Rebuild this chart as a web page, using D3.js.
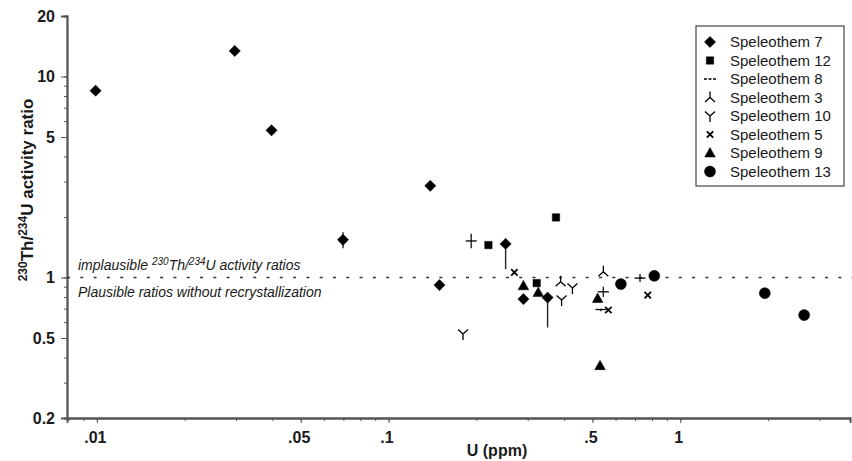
<!DOCTYPE html>
<html>
<head>
<meta charset="utf-8">
<script src="https://cdn.jsdelivr.net/npm/d3@7"></script>
<style>
  body { margin: 0; background: #fff; }
  svg { display: block; font-family: "Liberation Sans", Arial, sans-serif; }
</style>
</head>
<body>
<div id="chart"></div>
<script>
// U (ppm) vs 230Th/234U activity ratio
const speleothem7 = [[0.0099, 8.5], [0.0297, 13.4], [0.0397, 5.4], [0.0698, 1.54], [0.139, 2.86],
  [0.1495, 0.917], [0.252, 1.47], [0.29, 0.781], [0.351, 0.795]];
const speleothem12 = [[0.22, 1.45], [0.375, 1.99], [0.322, 0.938]];
const speleothem8 = [[0.192, 1.52], [0.545, 0.849], [0.728, 0.993], [0.535, 0.693]];
const speleothem3 = [[0.389, 0.952], [0.545, 1.067]];
const speleothem10 = [[0.18, 0.523], [0.427, 0.886], [0.392, 0.772]];
const speleothem5 = [[0.27, 1.06], [0.567, 0.689], [0.774, 0.817]];
const speleothem9 = [[0.29, 0.909], [0.326, 0.842], [0.521, 0.786], [0.531, 0.364]];
const speleothem13 = [[0.626, 0.927], [0.815, 1.02], [1.95, 0.836], [2.66, 0.65]];

// vertical error bars [U, low, high]
const errorBars = [[0.0698, 1.40, 1.68], [0.252, 1.10, 1.50], [0.351, 0.564, 0.83],
  [0.192, 1.40, 1.65], [0.545, 0.80, 0.90], [0.728, 0.95, 1.04], [0.535, 0.68, 0.70]];

const xTicks = [0.01, 0.05, 0.1, 0.5, 1];
const xTickLabels = ['.01', '.05', '.1', '.5', '1'];
const yTicks = [0.2, 0.5, 1, 5, 10, 20];
const yTickLabels = ['0.2', '0.5', '1', '5', '10', '20'];

const series = [
  { name: 'Speleothem 7', shape: 'diamond', data: speleothem7 },
  { name: 'Speleothem 12', shape: 'square', data: speleothem12 },
  { name: 'Speleothem 8', shape: 'dash', data: speleothem8 },
  { name: 'Speleothem 3', shape: 'tri-down', data: speleothem3 },
  { name: 'Speleothem 10', shape: 'tri-up', data: speleothem10 },
  { name: 'Speleothem 5', shape: 'cross', data: speleothem5 },
  { name: 'Speleothem 9', shape: 'triangle', data: speleothem9 },
  { name: 'Speleothem 13', shape: 'circle', data: speleothem13 }
];

const width = 852, height = 461;
const font = '"Liberation Sans", Arial, sans-serif';
const svg = d3.select('#chart').append('svg')
  .attr('width', width)
  .attr('height', height);

const x = d3.scaleLog().domain([0.0079, 3.82]).range([67, 850]);
const y = d3.scaleLog().domain([0.2, 20]).range([418, 16]);

// minor ticks, every 1..9 of each decade inside the domain
function minorTicks(scale) {
  const [a, b] = scale.domain();
  const out = [];
  for (let e = -3; e <= 1; e++) {
    for (let m = 1; m <= 9; m++) {
      const v = +(m * Math.pow(10, e)).toPrecision(3);
      if (v >= a * 0.999 && v <= b * 1.001) out.push(v);
    }
  }
  return out;
}

const axisColor = '#555';

// x axis
const xMinorG = svg.append('g').attr('transform', `translate(0,${y.range()[0]})`)
  .call(d3.axisBottom(x).tickValues(minorTicks(x)).tickSize(3).tickFormat(''));
const xMajorG = svg.append('g').attr('transform', `translate(0,${y.range()[0]})`)
  .call(d3.axisBottom(x).tickValues(xTicks).tickSize(5).tickPadding(9)
    .tickFormat((d, i) => xTickLabels[i]));

// y axis
const yMinorG = svg.append('g').attr('transform', `translate(${x.range()[0]},0)`)
  .call(d3.axisLeft(y).tickValues(minorTicks(y)).tickSize(3).tickFormat(''));
const yMajorG = svg.append('g').attr('transform', `translate(${x.range()[0]},0)`)
  .call(d3.axisLeft(y).tickValues(yTicks).tickSize(6).tickPadding(6)
    .tickFormat((d, i) => yTickLabels[i]));

[xMinorG, xMajorG, yMinorG, yMajorG].forEach(g => {
  g.attr('font-family', font);
  g.select('.domain').attr('stroke', axisColor).attr('stroke-width', 1.8);
  g.selectAll('.tick line').attr('stroke', axisColor).attr('stroke-width', 1);
  g.selectAll('.tick text')
    .attr('fill', '#1a1a1a')
    .style('font-size', '16px')
    .style('font-weight', 'bold');
});
xMajorG.selectAll('.tick text').attr('dx', -2);

// axis titles
svg.append('text')
  .attr('x', 497)
  .attr('y', 456)
  .attr('text-anchor', 'middle')
  .style('font-size', '16px')
  .style('font-weight', 'bold')
  .attr('fill', '#1a1a1a')
  .text('U (ppm)');

const yTitle = svg.append('text')
  .attr('transform', 'translate(33,190) rotate(-90)')
  .attr('text-anchor', 'middle')
  .style('font-size', '17px')
  .style('font-weight', 'bold')
  .attr('fill', '#1a1a1a');
yTitle.append('tspan').attr('dy', -6).style('font-size', '12px').text('230');
yTitle.append('tspan').attr('dy', 6).text('Th/');
yTitle.append('tspan').attr('dy', -6).style('font-size', '12px').text('234');
yTitle.append('tspan').attr('dy', 6).text('U activity ratio');

// ratio = 1 boundary
svg.append('line')
  .attr('x1', x.range()[0])
  .attr('x2', width)
  .attr('y1', y(1))
  .attr('y2', y(1))
  .attr('stroke', '#333')
  .attr('stroke-width', 1.3)
  .attr('stroke-dasharray', '3 10.3');

const note1 = svg.append('text')
  .attr('x', 78)
  .attr('y', 270)
  .style('font-size', '14px')
  .style('font-style', 'italic')
  .attr('fill', '#1a1a1a');
note1.append('tspan').text('implausible ');
note1.append('tspan').attr('dy', -5).style('font-size', '10px').text('230');
note1.append('tspan').attr('dy', 5).text('Th/');
note1.append('tspan').attr('dy', -5).style('font-size', '10px').text('234');
note1.append('tspan').attr('dy', 5).text('U activity ratios');

svg.append('text')
  .attr('x', 78)
  .attr('y', 297)
  .style('font-size', '14px')
  .style('font-style', 'italic')
  .attr('fill', '#1a1a1a')
  .text('Plausible ratios without recrystallization');

// marker shapes
function markerPath(shape) {
  switch (shape) {
    case 'diamond': return 'M0,-5.6L5.6,0L0,5.6L-5.6,0Z';
    case 'square': return 'M-3.7,-3.7H3.7V3.7H-3.7Z';
    case 'triangle': return 'M0,-5.5L5.3,4L-5.3,4Z';
    case 'circle': return d3.symbol(d3.symbolCircle, 95)();
    case 'cross': return 'M-3.2,-3.2L3.2,3.2M-3.2,3.2L3.2,-3.2';
    case 'tri-up': return 'M0,0L-5,-4.5M0,0L5,-4.5M0,0V6';
    case 'tri-down': return 'M0,0L-5,4.5M0,0L5,4.5M0,0V-6';
    case 'dash': return 'M-5.5,0H5.5';
  }
}
const filled = s => ['diamond', 'square', 'triangle', 'circle'].includes(s);

// error bars
svg.append('g').selectAll('line')
  .data(errorBars)
  .join('line')
  .attr('x1', d => x(d[0]))
  .attr('x2', d => x(d[0]))
  .attr('y1', d => y(d[1]))
  .attr('y2', d => y(d[2]))
  .attr('stroke', '#222')
  .attr('stroke-width', 1.4);

// points
series.forEach(s => {
  svg.append('g').selectAll('path')
    .data(s.data)
    .join('path')
    .attr('transform', d => `translate(${x(d[0])},${y(d[1])})`)
    .attr('d', markerPath(s.shape))
    .attr('fill', filled(s.shape) ? '#000' : 'none')
    .attr('stroke', '#000')
    .attr('stroke-width', filled(s.shape) ? 0.5 : (s.shape === 'cross' ? 1.8 : 1.3));
});

// legend
const legend = svg.append('g');
legend.append('rect')
  .attr('x', 696)
  .attr('y', 26)
  .attr('width', 148)
  .attr('height', 160)
  .attr('fill', '#fff')
  .attr('stroke', '#444')
  .attr('stroke-width', 1.2);

const rows = legend.selectAll('g.row')
  .data(series)
  .join('g')
  .attr('class', 'row')
  .attr('transform', (d, i) => `translate(710,${42 + i * 18.5})`);

rows.append('path')
  .attr('d', d => d.shape === 'dash' ? 'M-6,0H6' : markerPath(d.shape))
  .attr('fill', d => filled(d.shape) ? '#000' : 'none')
  .attr('stroke', '#000')
  .attr('stroke-dasharray', d => d.shape === 'dash' ? '3 1.5' : null)
  .attr('stroke-width', d => filled(d.shape) ? 0.5 : (d.shape === 'cross' ? 1.8 : 1.3));

rows.append('text')
  .attr('x', 20)
  .attr('dy', '0.35em')
  .style('font-size', '15px')
  .attr('fill', '#1a1a1a')
  .text(d => d.name);
</script>
</body>
</html>
